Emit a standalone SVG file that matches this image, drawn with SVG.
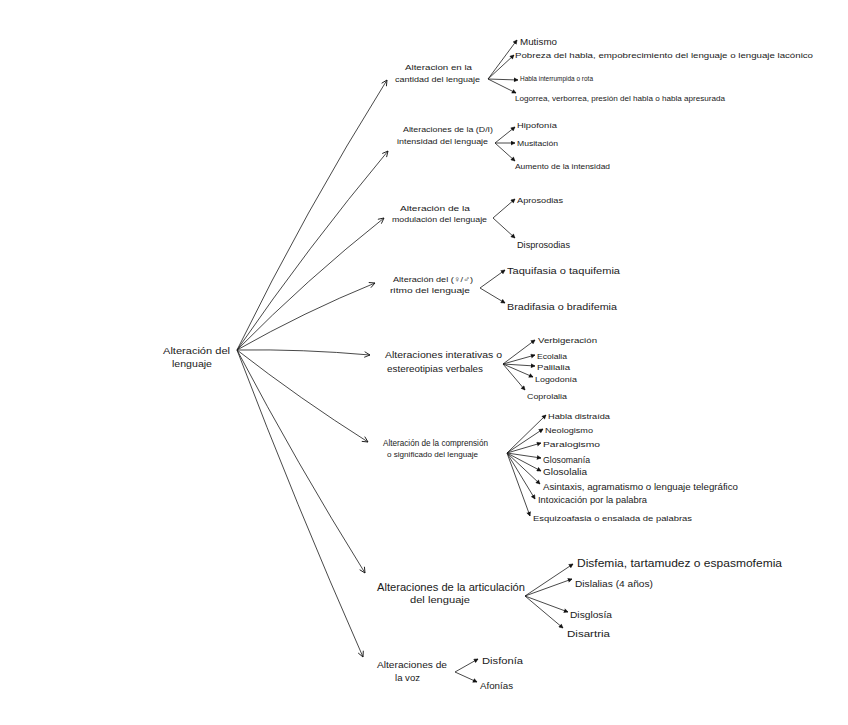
<svg xmlns="http://www.w3.org/2000/svg" width="848" height="725" viewBox="0 0 848 725">
<defs>
<marker id="ah" viewBox="0 0 10 10" refX="9" refY="5" markerWidth="7" markerHeight="7" markerUnits="userSpaceOnUse" orient="auto">
<path d="M1,1 L9,5 L1,9" fill="none" stroke="#111" stroke-width="1.2"/>
</marker>
<marker id="as" viewBox="0 0 10 10" refX="9" refY="5" markerWidth="5" markerHeight="5" markerUnits="userSpaceOnUse" orient="auto">
<path d="M1,1 L9,5 L1,9" fill="#111" stroke="#111" stroke-width="1"/>
</marker>
</defs>
<style>
text{font-family:"Liberation Sans","Noto Sans",sans-serif;fill:#1a1a1a;font-size:9px}
.s{font-size:8px}
.m{font-size:9.5px}
.l{font-size:11px}
.c path{fill:none;stroke:#1a1a1a;stroke-width:0.8}
.c .r{marker-end:url(#ah)}
.c .k{marker-end:url(#as)}
</style>
<rect width="848" height="725" fill="#fff"/>
<g class="c" id="connectors">
<path class="r" d="M237,350 Q305,211 387,80"/>
<path class="r" d="M237,350 Q308,247 388,151"/>
<path class="r" d="M237,350 Q307,279 384,218"/>
<path class="r" d="M237,350 Q304,312 375,283"/>
<path class="r" d="M237,350 Q303,349 370,355"/>
<path class="r" d="M237,350 Q300,399 368,442"/>
<path class="r" d="M237,350 Q297,464 365,573"/>
<path class="r" d="M237,350 Q296,505 363,657"/>
<path class="k" d="M488,79 L517,40"/>
<path class="k" d="M488,79 L514,55"/>
<path class="k" d="M488,79 L518,80"/>
<path class="k" d="M488,79 L516,93"/>
<path class="k" d="M495,143 L515,127"/>
<path class="k" d="M495,143 L515,143"/>
<path class="k" d="M495,143 L515,161"/>
<path class="k" d="M493,218 L515,199"/>
<path class="k" d="M493,218 L515,238"/>
<path class="k" d="M480,288 L505,270"/>
<path class="k" d="M480,288 L505,303"/>
<path class="k" d="M503,364 L535,340"/>
<path class="k" d="M503,364 L535,355"/>
<path class="k" d="M503,364 L535,366"/>
<path class="k" d="M503,364 L533,377"/>
<path class="k" d="M503,364 L525,390"/>
<path class="k" d="M507,453 L546,415"/>
<path class="k" d="M507,453 L543,429"/>
<path class="k" d="M507,453 L541,443"/>
<path class="k" d="M507,453 L541,458"/>
<path class="k" d="M507,453 L541,471"/>
<path class="k" d="M507,453 L540,484"/>
<path class="k" d="M507,453 L535,499"/>
<path class="k" d="M507,453 L530,516"/>
<path class="k" d="M525,596 L573,564"/>
<path class="k" d="M525,596 L572,579"/>
<path class="k" d="M525,596 L568,612"/>
<path class="k" d="M525,596 L563,628"/>
<path class="k" d="M455,672 L478,659"/>
<path class="k" d="M455,672 L477,682"/>
</g>
<g id="root">
<text class="m" x="163" y="354" textLength="67" lengthAdjust="spacingAndGlyphs">Alteración del</text>
<text class="m" x="172" y="367" textLength="40" lengthAdjust="spacingAndGlyphs">lenguaje</text>
</g>
<g id="n1">
<text class="s" x="405" y="70" textLength="67" lengthAdjust="spacingAndGlyphs">Alteracion en la</text>
<text class="s" x="395" y="82" textLength="85" lengthAdjust="spacingAndGlyphs">cantidad del lenguaje</text>
</g>
<g id="n1a"><text class="m" x="520" y="45" textLength="37" lengthAdjust="spacingAndGlyphs">Mutismo</text></g>
<g id="n1b"><text class="s" x="515" y="58" textLength="298" lengthAdjust="spacingAndGlyphs">Pobreza del habla, empobrecimiento del lenguaje o lenguaje lacónico</text></g>
<g id="n1c"><text class="s" x="520" y="81" textLength="73" lengthAdjust="spacingAndGlyphs">Habla interrumpida o rota</text></g>
<g id="n1d"><text class="s" x="515" y="101" textLength="210" lengthAdjust="spacingAndGlyphs">Logorrea, verborrea, presión del habla o habla apresurada</text></g>
<g id="n2">
<text class="s" x="403" y="132" textLength="90" lengthAdjust="spacingAndGlyphs">Alteraciones de la (D/I)</text>
<text class="s" x="397" y="144" textLength="91" lengthAdjust="spacingAndGlyphs">intensidad del lenguaje</text>
</g>
<g id="n2a"><text class="s" x="517" y="128" textLength="40" lengthAdjust="spacingAndGlyphs">Hipofonía</text></g>
<g id="n2b"><text class="s" x="517" y="146" textLength="41" lengthAdjust="spacingAndGlyphs">Musitación</text></g>
<g id="n2c"><text class="s" x="515" y="169" textLength="95" lengthAdjust="spacingAndGlyphs">Aumento de la intensidad</text></g>
<g id="n3">
<text class="s" x="400" y="211" textLength="70" lengthAdjust="spacingAndGlyphs">Alteración de la</text>
<text class="s" x="392" y="222" textLength="95" lengthAdjust="spacingAndGlyphs">modulación del lenguaje</text>
</g>
<g id="n3a"><text class="s" x="517" y="203" textLength="46" lengthAdjust="spacingAndGlyphs">Aprosodias</text></g>
<g id="n3b"><text class="m" x="517" y="248" textLength="53" lengthAdjust="spacingAndGlyphs">Disprosodias</text></g>
<g id="n4">
<text class="s" x="393" y="282" textLength="80" lengthAdjust="spacingAndGlyphs">Alteración del (♀/♂)</text>
<text class="s" x="390" y="293" textLength="80" lengthAdjust="spacingAndGlyphs">ritmo del lenguaje</text>
</g>
<g id="n4a"><text class="m" x="507" y="274" textLength="113" lengthAdjust="spacingAndGlyphs">Taquifasia o taquifemia</text></g>
<g id="n4b"><text class="m" x="507" y="310" textLength="110" lengthAdjust="spacingAndGlyphs">Bradifasia o bradifemia</text></g>
<g id="n5">
<text class="m" x="385" y="358" textLength="117" lengthAdjust="spacingAndGlyphs">Alteraciones interativas o</text>
<text class="m" x="387" y="372" textLength="96" lengthAdjust="spacingAndGlyphs">estereotipias verbales</text>
</g>
<g id="n5a"><text class="s" x="538" y="343" textLength="59" lengthAdjust="spacingAndGlyphs">Verbigeración</text></g>
<g id="n5b"><text class="s" x="537" y="359" textLength="30" lengthAdjust="spacingAndGlyphs">Ecolalia</text></g>
<g id="n5c"><text class="s" x="537" y="370" textLength="33" lengthAdjust="spacingAndGlyphs">Palilalia</text></g>
<g id="n5d"><text class="s" x="535" y="382" textLength="42" lengthAdjust="spacingAndGlyphs">Logodonía</text></g>
<g id="n5e"><text class="s" x="527" y="399" textLength="40" lengthAdjust="spacingAndGlyphs">Coprolalia</text></g>
<g id="n6">
<text x="383" y="446" textLength="105" lengthAdjust="spacingAndGlyphs">Alteración de la comprensión</text>
<text class="s" x="387" y="457" textLength="91" lengthAdjust="spacingAndGlyphs">o significado del lenguaje</text>
</g>
<g id="n6a"><text class="s" x="548" y="419" textLength="62" lengthAdjust="spacingAndGlyphs">Habla distraída</text></g>
<g id="n6b"><text class="s" x="545" y="433" textLength="48" lengthAdjust="spacingAndGlyphs">Neologismo</text></g>
<g id="n6c"><text class="s" x="543" y="447" textLength="57" lengthAdjust="spacingAndGlyphs">Paralogismo</text></g>
<g id="n6d"><text class="m" x="543" y="463" textLength="47" lengthAdjust="spacingAndGlyphs">Glosomanía</text></g>
<g id="n6e"><text class="m" x="543" y="475" textLength="44" lengthAdjust="spacingAndGlyphs">Glosolalia</text></g>
<g id="n6f"><text class="m" x="543" y="490" textLength="195" lengthAdjust="spacingAndGlyphs">Asintaxis, agramatismo o lenguaje telegráfico</text></g>
<g id="n6g"><text class="m" x="538" y="503" textLength="109" lengthAdjust="spacingAndGlyphs">Intoxicación por la palabra</text></g>
<g id="n6h"><text class="s" x="533" y="521" textLength="159" lengthAdjust="spacingAndGlyphs">Esquizoafasia o ensalada de palabras</text></g>
<g id="n7">
<text class="l" x="377" y="591" textLength="148" lengthAdjust="spacingAndGlyphs">Alteraciones de la articulación</text>
<text class="m" x="410" y="603" textLength="60" lengthAdjust="spacingAndGlyphs">del lenguaje</text>
</g>
<g id="n7a"><text class="l" x="577" y="567" textLength="205" lengthAdjust="spacingAndGlyphs">Disfemia, tartamudez o espasmofemia</text></g>
<g id="n7b"><text class="m" x="575" y="587" textLength="78" lengthAdjust="spacingAndGlyphs">Dislalias (4 años)</text></g>
<g id="n7c"><text class="m" x="570" y="618" textLength="42" lengthAdjust="spacingAndGlyphs">Disglosía</text></g>
<g id="n7d"><text class="m" x="567" y="637" textLength="43" lengthAdjust="spacingAndGlyphs">Disartria</text></g>
<g id="n8">
<text class="m" x="377" y="668" textLength="70" lengthAdjust="spacingAndGlyphs">Alteraciones de</text>
<text class="m" x="395" y="681" textLength="25" lengthAdjust="spacingAndGlyphs">la voz</text>
</g>
<g id="n8a"><text class="m" x="482" y="664" textLength="41" lengthAdjust="spacingAndGlyphs">Disfonía</text></g>
<g id="n8b"><text class="m" x="480" y="689" textLength="33" lengthAdjust="spacingAndGlyphs">Afonías</text></g>
</svg>
